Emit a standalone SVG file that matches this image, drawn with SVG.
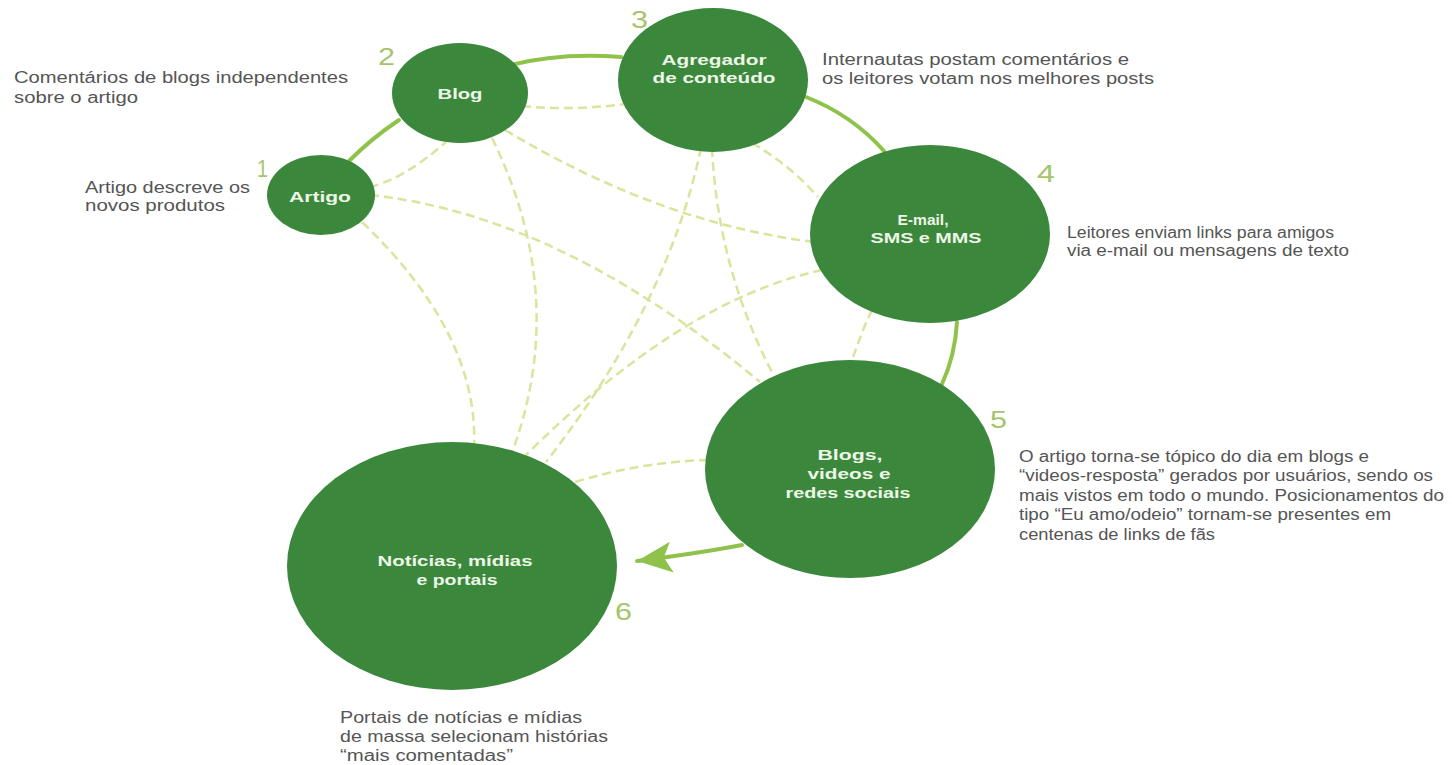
<svg xmlns="http://www.w3.org/2000/svg" width="1452" height="765" viewBox="0 0 1452 765">
<style>
.node{fill:#3b883d}
.lbl{font-family:"Liberation Sans",Arial,sans-serif;font-weight:bold;font-size:15px;fill:#eef6e8;text-anchor:middle}
.desc{font-family:"Liberation Sans",Arial,sans-serif;font-size:16px;fill:#555555}
.num{font-family:"Liberation Sans",Arial,sans-serif;font-size:24px;fill:#a4c56a}
.solid{fill:none;stroke:#8fc24b;stroke-width:4;stroke-linecap:round}
.dash{fill:none;stroke:#dbe39c;stroke-width:2.5;stroke-dasharray:9 5}
</style>
<defs>
<marker id="arrow" markerUnits="userSpaceOnUse" viewBox="-36 -17 38 34" refX="0" refY="0" markerWidth="38" markerHeight="34" orient="auto">
<path d="M0,0 L-35,-16 L-27,0 L-35,15 Z" fill="#8fc24b"/>
</marker>
</defs>
<rect width="1452" height="765" fill="#ffffff"/>
<g id="connectors">
<path class="dash" d="M370,187 Q404,179 446,142"/>
<path class="dash" d="M522,106 Q573,111 625,104"/>
<path class="dash" d="M370,195 Q560,215 760,382"/>
<path class="dash" d="M362,222 Q479,334 474,447"/>
<path class="dash" d="M492,138 Q569,295 513,450"/>
<path class="dash" d="M505,130 Q660,223 814,242"/>
<path class="dash" d="M701,148 Q668,305 546,462"/>
<path class="dash" d="M712,148 Q718,270 774,376"/>
<path class="dash" d="M752,143 Q790,165 818,197"/>
<path class="dash" d="M822,270 Q682,300 525,456"/>
<path class="dash" d="M872,310 Q860,335 851,364"/>
<path class="dash" d="M708,460 Q640,462 575,482"/>
<path class="solid" d="M349,161 Q372,138 399,120"/>
<path class="solid" d="M506,66 Q560,52 621,57"/>
<path class="solid" d="M806,97 Q852,115 884,151"/>
<path class="solid" d="M957,322 Q955,356 942,384"/>
<path class="solid" d="M742,545 Q700,553 637,561" marker-end="url(#arrow)"/>
</g>
<g id="node-artigo">
<ellipse class="node" cx="321" cy="195" rx="54" ry="40"/>
<text class="lbl" x="320" y="202" textLength="62" lengthAdjust="spacingAndGlyphs">Artigo</text>
<text class="num" x="257" y="177" textLength="11" lengthAdjust="spacingAndGlyphs">1</text>
<text class="desc" x="85" y="193" textLength="165" lengthAdjust="spacingAndGlyphs">Artigo descreve os</text>
<text class="desc" x="85" y="211" textLength="140" lengthAdjust="spacingAndGlyphs">novos produtos</text>
</g>
<g id="node-blog">
<ellipse class="node" cx="460" cy="93" rx="68" ry="50"/>
<text class="lbl" x="460" y="99" textLength="45" lengthAdjust="spacingAndGlyphs">Blog</text>
<text class="num" x="378" y="65" textLength="17" lengthAdjust="spacingAndGlyphs">2</text>
<text class="desc" x="14" y="83" textLength="334" lengthAdjust="spacingAndGlyphs">Comentários de blogs independentes</text>
<text class="desc" x="14" y="103" textLength="124" lengthAdjust="spacingAndGlyphs">sobre o artigo</text>
</g>
<g id="node-agregador">
<ellipse class="node" cx="713" cy="80" rx="95" ry="72"/>
<text class="lbl" x="714" y="65" textLength="105" lengthAdjust="spacingAndGlyphs">Agregador</text>
<text class="lbl" x="714" y="83" textLength="123" lengthAdjust="spacingAndGlyphs">de conteúdo</text>
<text class="num" x="631" y="28" textLength="17" lengthAdjust="spacingAndGlyphs">3</text>
<text class="desc" x="822" y="65" textLength="307" lengthAdjust="spacingAndGlyphs">Internautas postam comentários e</text>
<text class="desc" x="822" y="84" textLength="332" lengthAdjust="spacingAndGlyphs">os leitores votam nos melhores posts</text>
</g>
<g id="node-email">
<ellipse class="node" cx="930" cy="234" rx="120" ry="89"/>
<text class="lbl" x="923" y="225" textLength="51" lengthAdjust="spacingAndGlyphs">E-mail,</text>
<text class="lbl" x="926" y="243" textLength="111" lengthAdjust="spacingAndGlyphs">SMS e MMS</text>
<text class="num" x="1037" y="182" textLength="18" lengthAdjust="spacingAndGlyphs">4</text>
<text class="desc" x="1067" y="238" textLength="267" lengthAdjust="spacingAndGlyphs">Leitores enviam links para amigos</text>
<text class="desc" x="1067" y="256" textLength="282" lengthAdjust="spacingAndGlyphs">via e-mail ou mensagens de texto</text>
</g>
<g id="node-blogs-videos">
<ellipse class="node" cx="850" cy="469" rx="145" ry="109"/>
<text class="lbl" x="850" y="460" textLength="65" lengthAdjust="spacingAndGlyphs">Blogs,</text>
<text class="lbl" x="849" y="479" textLength="83" lengthAdjust="spacingAndGlyphs">videos e</text>
<text class="lbl" x="848" y="498" textLength="125" lengthAdjust="spacingAndGlyphs">redes sociais</text>
<text class="num" x="990" y="428" textLength="17" lengthAdjust="spacingAndGlyphs">5</text>
<text class="desc" x="1019" y="462" textLength="350" lengthAdjust="spacingAndGlyphs">O artigo torna-se tópico do dia em blogs e</text>
<text class="desc" x="1019" y="481" textLength="414" lengthAdjust="spacingAndGlyphs">“videos-resposta” gerados por usuários, sendo os</text>
<text class="desc" x="1019" y="501" textLength="425" lengthAdjust="spacingAndGlyphs">mais vistos em todo o mundo. Posicionamentos do</text>
<text class="desc" x="1019" y="520" textLength="372" lengthAdjust="spacingAndGlyphs">tipo “Eu amo/odeio” tornam-se presentes em</text>
<text class="desc" x="1019" y="540" textLength="196" lengthAdjust="spacingAndGlyphs">centenas de links de fãs</text>
</g>
<g id="node-noticias">
<ellipse class="node" cx="452" cy="566" rx="165" ry="124"/>
<text class="lbl" x="455" y="566" textLength="155" lengthAdjust="spacingAndGlyphs">Notícias, mídias</text>
<text class="lbl" x="457" y="585" textLength="81" lengthAdjust="spacingAndGlyphs">e portais</text>
<text class="num" x="615" y="620" textLength="17" lengthAdjust="spacingAndGlyphs">6</text>
<text class="desc" x="340" y="723" textLength="242" lengthAdjust="spacingAndGlyphs">Portais de notícias e mídias</text>
<text class="desc" x="340" y="742" textLength="268" lengthAdjust="spacingAndGlyphs">de massa selecionam histórias</text>
<text class="desc" x="340" y="761" textLength="173" lengthAdjust="spacingAndGlyphs">“mais comentadas”</text>
</g>
</svg>
